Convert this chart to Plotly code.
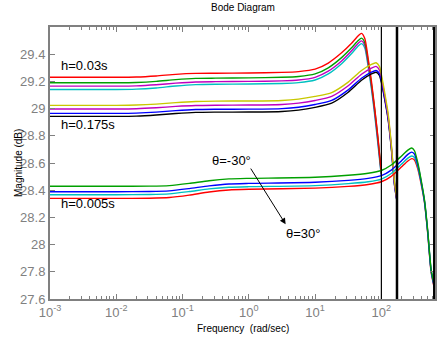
import plotly.graph_objects as go

# ---------------- data ----------------
# group h = 0.03 s
freq_a = [0.001, 0.01, 0.02, 0.04, 0.079, 0.158, 0.316, 1, 3.16, 5.62, 10, 15.8,
          25.1, 35.5, 44.7, 50.1, 56.2, 63.1, 70.8, 79.4, 89.1, 100]
mag_a_red = [29.23, 29.23, 29.232, 29.24, 29.252, 29.259, 29.26, 29.262, 29.266, 29.272, 29.29,
             29.335, 29.41, 29.48, 29.535, 29.553, 29.515, 29.37, 29.2, 29.0, 28.78, 28.53]
mag_a_green = [29.19, 29.19, 29.192, 29.2, 29.213, 29.222, 29.224, 29.226, 29.23, 29.236, 29.255,
               29.3, 29.375, 29.447, 29.5, 29.518, 29.485, 29.35, 29.18, 28.99, 28.77, 28.52]
mag_a_magenta = [29.165, 29.165, 29.167, 29.175, 29.187, 29.196, 29.198, 29.2, 29.204, 29.21, 29.23,
                 29.275, 29.35, 29.425, 29.48, 29.498, 29.465, 29.33, 29.165, 28.97, 28.75, 28.51]
mag_a_cyan = [29.14, 29.14, 29.143, 29.152, 29.166, 29.176, 29.179, 29.181, 29.185, 29.191, 29.21,
              29.255, 29.33, 29.405, 29.46, 29.478, 29.445, 29.31, 29.145, 28.95, 28.73, 28.5]

# group h = 0.175 s
freq_b = [0.001, 0.01, 0.02, 0.04, 0.079, 0.158, 0.316, 1, 3.16, 5.62, 10, 17.8, 31.6,
          50.1, 70.8, 83.2, 93.3, 100, 112, 126, 141, 158, 172]
mag_b_yellow = [29.024, 29.024, 29.026, 29.033, 29.044, 29.052, 29.055, 29.056, 29.06, 29.07, 29.09,
                29.118, 29.195, 29.28, 29.325, 29.337, 29.31, 29.25, 29.12, 28.97, 28.74, 28.46, 28.33]
mag_b_magenta = [28.997, 28.997, 28.999, 29.006, 29.016, 29.023, 29.025, 29.026, 29.03, 29.04, 29.06,
                 29.09, 29.168, 29.253, 29.298, 29.31, 29.285, 29.23, 29.1, 28.95, 28.73, 28.45, 28.325]
mag_b_blue = [28.965, 28.965, 28.967, 28.974, 28.985, 28.993, 28.995, 28.996, 29.0, 29.01, 29.03,
              29.06, 29.138, 29.223, 29.268, 29.28, 29.258, 29.205, 29.08, 28.935, 28.72, 28.44, 28.32]
mag_b_black = [28.943, 28.943, 28.945, 28.953, 28.964, 28.972, 28.974, 28.975, 28.979, 28.989, 29.009,
               29.04, 29.12, 29.208, 29.255, 29.267, 29.245, 29.193, 29.07, 28.925, 28.71, 28.435, 28.315]

# group h = 0.005 s
freq_c = [0.001, 0.01, 0.0316, 0.0631, 0.126, 0.251, 0.501, 1, 10, 31.6, 63.1, 100, 141,
          200, 251, 288, 316, 355, 398, 447, 501, 562, 628.3]
mag_c_green = [28.429, 28.429, 28.43, 28.434, 28.45, 28.47, 28.483, 28.487, 28.495, 28.51, 28.525,
               28.545, 28.585, 28.65, 28.695, 28.71, 28.69, 28.6, 28.475, 28.33, 28.1, 27.82, 27.7]
mag_c_blue = [28.389, 28.389, 28.39, 28.395, 28.412, 28.432, 28.446, 28.45, 28.458, 28.472, 28.487,
              28.507, 28.548, 28.615, 28.663, 28.68, 28.665, 28.585, 28.465, 28.32, 28.09, 27.81, 27.69]
mag_c_cyan = [28.367, 28.367, 28.368, 28.373, 28.39, 28.41, 28.422, 28.426, 28.434, 28.448, 28.462,
              28.482, 28.523, 28.59, 28.636, 28.652, 28.64, 28.57, 28.455, 28.315, 28.085, 27.81, 27.69]
mag_c_red = [28.34, 28.34, 28.341, 28.346, 28.364, 28.387, 28.402, 28.407, 28.415, 28.428, 28.442,
             28.462, 28.502, 28.57, 28.615, 28.632, 28.622, 28.555, 28.445, 28.31, 28.08, 27.8, 27.68]

# vertical (Nyquist) markers
vline_freqs = [100, 172, 628.3]
vline_widths = [1.2, 2.5, 2.5]

x_tick_vals = [0.001, 0.01, 0.1, 1, 10, 100]
x_tick_text = ["10<sup>-3</sup>", "10<sup>-2</sup>", "10<sup>-1</sup>",
               "10<sup>0</sup>", "10<sup>1</sup>", "10<sup>2</sup>"]
y_tick_vals = [27.6, 27.8, 28.0, 28.2, 28.4, 28.6, 28.8, 29.0, 29.2, 29.4]
y_tick_text = ["27.6", "27.8", "28", "28.2", "28.4", "28.6", "28.8", "29", "29.2", "29.4"]

x_min_tick = [m * 10 ** e for e in range(-3, 3) for m in range(2, 10)]

# ---------------- styling ----------------
RED, GREEN, MAG, CYAN = "#ff0000", "#00a000", "#c000c0", "#00c0c0"
YEL, BLUE, BLACK = "#c8c800", "#0000ff", "#000000"
NARROW = "Liberation Sans, Arial, sans-serif"
SANS = "Liberation Sans, Arial, sans-serif"
GREY = "#808080"

fig = go.Figure()

def add(freq, mag, color):
    fig.add_trace(go.Scatter(x=freq, y=mag, mode="lines",
                             line=dict(color=color, width=1.4, shape="spline", smoothing=0.6),
                             showlegend=False, hoverinfo="skip"))

for m, c in [(mag_a_cyan, CYAN), (mag_a_magenta, MAG), (mag_a_green, GREEN), (mag_a_red, RED)]:
    add(freq_a, m, c)
for m, c in [(mag_b_black, BLACK), (mag_b_blue, BLUE), (mag_b_magenta, MAG), (mag_b_yellow, YEL)]:
    add(freq_b, m, c)
for m, c in [(mag_c_red, RED), (mag_c_cyan, CYAN), (mag_c_blue, BLUE), (mag_c_green, GREEN)]:
    add(freq_c, m, c)

for f, w in zip(vline_freqs, vline_widths):
    fig.add_shape(type="line", xref="x", yref="paper", x0=f, x1=f, y0=0, y1=1,
                  line=dict(color="black", width=w))

fig.update_xaxes(type="log", range=[-3, 2.809], tickvals=x_tick_vals, ticktext=x_tick_text,
                 ticks="inside", ticklen=5, tickcolor=GREY, tickwidth=1,
                 showline=True, linecolor=GREY, linewidth=2, mirror="ticks",
                 showgrid=False, zeroline=False,
                 tickfont=dict(family=NARROW, size=13, color=GREY),
                 minor=dict(tickvals=x_min_tick, ticks="inside", ticklen=3, tickcolor=GREY,
                            showgrid=False))
fig.update_yaxes(range=[27.6, 29.6], tickvals=y_tick_vals, ticktext=y_tick_text,
                 ticks="inside", ticklen=5, tickcolor=GREY, tickwidth=1,
                 showline=True, linecolor=GREY, linewidth=2, mirror="ticks",
                 showgrid=False, zeroline=False,
                 tickfont=dict(family=NARROW, size=13, color=GREY))

ann_font = dict(family=NARROW, size=13, color="black")
annotations = [
    dict(x=-2.865, y=29.32, text="h=0.03s", xanchor="left"),
    dict(x=-2.865, y=28.88, text="h=0.175s", xanchor="left"),
    dict(x=-2.865, y=28.30, text="h=0.005s", xanchor="left"),
    dict(x=-0.255, y=28.62, text="θ=-30°", xanchor="center"),
    dict(x=0.81, y=28.085, text="θ=30°", xanchor="center"),
]
for a in annotations:
    fig.add_annotation(xref="x", yref="y", yanchor="middle", showarrow=False, font=ann_font, **a)

# arrow
fig.add_annotation(xref="x", yref="y", axref="x", ayref="y",
                   x=0.555, y=28.15, ax=0.015, ay=28.57, text="",
                   showarrow=True, arrowhead=2, arrowsize=1.2, arrowwidth=1, arrowcolor="black")

fig.add_annotation(xref="paper", yref="paper", x=0.5, y=1, yshift=20, text="Bode Diagram",
                   showarrow=False, font=dict(family=SANS, size=10, color="black"),
                   xanchor="center", yanchor="middle")
fig.add_annotation(xref="paper", yref="paper", x=0, xshift=-32, y=0.5, text="Magnitude (dB)",
                   textangle=-90, showarrow=False, font=dict(family=SANS, size=10, color="black"),
                   xanchor="center", yanchor="middle")
fig.add_annotation(xref="paper", yref="paper", x=0.5, y=0, yshift=-29, text="Frequency  (rad/sec)",
                   showarrow=False, font=dict(family=SANS, size=10, color="black"),
                   xanchor="center", yanchor="middle")

fig.update_layout(width=438, height=343, margin=dict(l=50, r=1, t=27, b=44),
                  paper_bgcolor="white", plot_bgcolor="white")

fig.write_html("out.html", config={"displayModeBar": False},
               post_script="document.body.style.margin='0';")
